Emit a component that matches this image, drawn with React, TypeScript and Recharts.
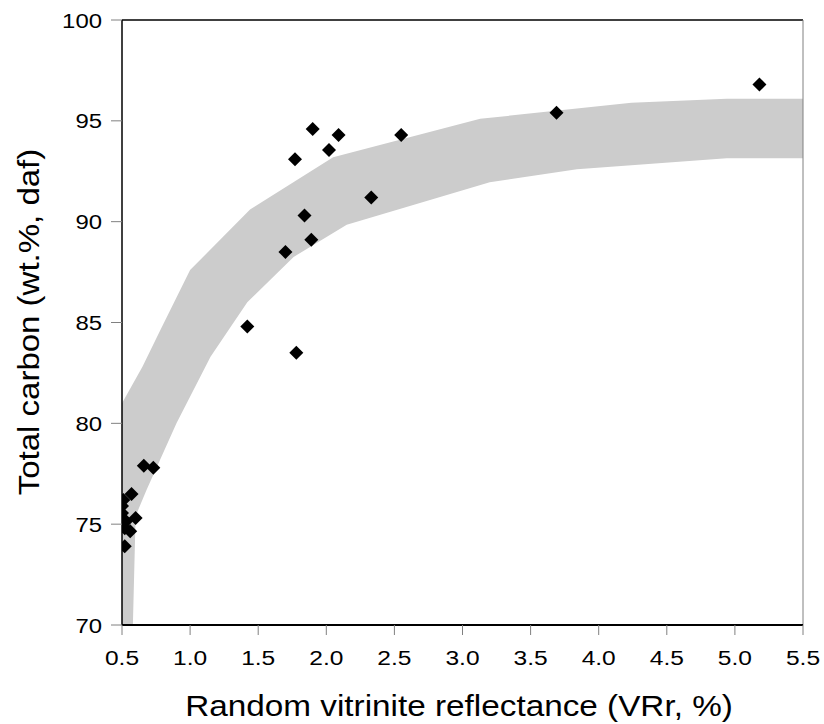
import React from 'react';
import { ComposedChart, Area, Scatter, XAxis, YAxis, ReferenceLine } from 'recharts';

document.body.style.margin = '0';

// upper edge of the grey band (VRr %, carbon %)
const upperVR = [0.5, 0.65, 0.78, 1.0, 1.44, 2.05, 3.13, 4.24, 4.94, 5.5];
const upperC = [81.0, 82.8, 84.6, 87.6, 90.6, 93.2, 95.1, 95.9, 96.1, 96.1];

// lower edge of the grey band
const lowerVR = [0.5, 0.58, 0.6, 0.68, 0.9, 1.15, 1.42, 1.76, 2.15, 3.2, 3.84, 4.94, 5.5];
const lowerC = [70, 70, 75.4, 76.7, 80.0, 83.3, 86.0, 88.25, 89.85, 91.95, 92.6, 93.15, 93.15];

// measured samples
const sampleVR = [0.52, 0.52, 0.56, 0.53, 0.6, 0.5, 0.5, 0.51, 0.57, 0.66, 0.73, 1.42, 1.78, 1.7, 1.89, 1.84, 2.33, 1.77, 2.02, 1.9, 2.09, 2.55, 3.69, 5.18];
const sampleC = [73.9, 74.8, 74.65, 75.15, 75.3, 75.55, 75.9, 76.2, 76.5, 77.9, 77.8, 84.8, 83.5, 88.5, 89.1, 90.3, 91.2, 93.1, 93.55, 94.6, 94.3, 94.3, 95.4, 96.8];

const xTicks = [0.5, 1.0, 1.5, 2.0, 2.5, 3.0, 3.5, 4.0, 4.5, 5.0, 5.5];
const yTicks = [70, 75, 80, 85, 90, 95, 100];

const upperData = upperVR.map((vr, i) => ({ vr, c: upperC[i] }));
const lowerData = lowerVR.map((vr, i) => ({ vr, c: lowerC[i] }));
const samples = sampleVR.map((vr, i) => ({ vr, c: sampleC[i] }));

const font = '"Liberation Sans", Arial, sans-serif';

const Diamond = (props: any) => {
  const { cx, cy } = props;
  const r = 7;
  return <polygon points={`${cx},${cy - r} ${cx + r},${cy} ${cx},${cy + r} ${cx - r},${cy}`} fill="#000" />;
};

// the original text is a bit wider than Arial, so stretch it a little
const XTick = (props: any) => {
  const { x, y, payload } = props;
  return (
    <text transform={`translate(${x},${y + 15}) scale(1.17,1)`} textAnchor="middle" fontSize={21} fontFamily={font} fill="#000">
      {Number(payload.value).toFixed(1)}
    </text>
  );
};

const YTick = (props: any) => {
  const { x, y, payload } = props;
  return (
    <text transform={`translate(${x},${y + 7.5}) scale(1.14,1)`} textAnchor="end" fontSize={21} fontFamily={font} fill="#000">
      {payload.value}
    </text>
  );
};

const XTitle = () => (
  <text transform="translate(459,716) scale(1.11,1)" textAnchor="middle" fontSize={30} fontFamily={font} fill="#000">
    Random vitrinite reflectance (VRr, %)
  </text>
);

const YTitle = () => (
  <text transform="translate(39,322) rotate(-90) scale(1.1,1)" textAnchor="middle" fontSize={30} fontFamily={font} fill="#000">
    Total carbon (wt.%, daf)
  </text>
);

const App = () => {
  return (
    <div style={{ width: 824, height: 724, fontFamily: font }}>
      <ComposedChart width={824} height={724} margin={{ top: 20, right: 21, bottom: 0, left: 0 }}>
        <XAxis
          type="number"
          dataKey="vr"
          domain={[0.5, 5.5]}
          ticks={xTicks}
          allowDataOverflow
          height={99}
          tickSize={10}
          tickMargin={15}
          axisLine={{ stroke: '#000', strokeWidth: 2 }}
          tickLine={{ stroke: '#808080' }}
          tick={XTick}
          label={XTitle}
        />
        <YAxis
          type="number"
          dataKey="c"
          domain={[70, 100]}
          ticks={yTicks}
          allowDataOverflow
          width={122}
          tickSize={11}
          tickMargin={9}
          axisLine={{ stroke: '#000', strokeWidth: 1.5 }}
          tickLine={{ stroke: '#808080' }}
          tick={YTick}
          label={YTitle}
        />
        <Area data={upperData} dataKey="c" type="linear" fill="#cccccc" fillOpacity={1} stroke="none" dot={false} activeDot={false} isAnimationActive={false} />
        <Area data={lowerData} dataKey="c" type="linear" fill="#ffffff" fillOpacity={1} stroke="none" dot={false} activeDot={false} isAnimationActive={false} />
        <ReferenceLine y={100} stroke="#000" strokeWidth={1.5} />
        <ReferenceLine x={5.5} stroke="#808080" />
        <Scatter data={samples} dataKey="c" shape={Diamond} isAnimationActive={false} />
      </ComposedChart>
    </div>
  );
};

export default App;
